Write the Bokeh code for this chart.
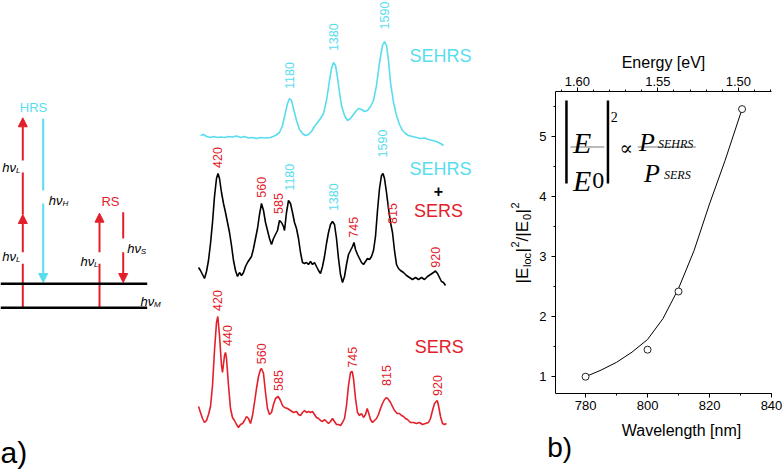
import numpy as np
from bokeh.plotting import figure
from bokeh.models import (Range1d, LinearAxis, SingleIntervalTicker, PrintfTickFormatter,
                          Arrow, NormalHead, Label)
from bokeh.layouts import row, column
from bokeh.embed import file_html
from bokeh.resources import INLINE
from bokeh.core.properties import value

# ------------------------------------------------------------------ data
# spectra (channel along the detector, intensity in a.u.)
sehrs_channel = [2, 5, 8, 12, 15, 19, 22, 26, 30, 34, 38, 42, 46, 50, 54, 58, 62, 67, 72, 77,
                 81, 84, 87, 89, 91, 93, 95, 98, 101, 104, 107, 110, 113, 116, 119, 122, 125, 128, 131, 133,
                 135, 137, 139, 141, 143, 146, 149, 152, 155, 158, 160, 163, 166, 169, 172, 175, 178, 181, 184, 186,
                 188, 190, 192, 195, 198, 201, 204, 207, 210, 214, 218, 222, 226, 230, 234, 238, 242, 245]
sehrs_intensity = [11, 12, 10, 9, 10, 9, 9.5, 9, 10, 9.5, 10.5, 9, 10, 8.5, 9, 8, 9, 8.5, 9, 11,
                   14, 21, 34, 43, 48, 46, 38, 26, 17, 13, 11, 12, 15, 20, 24, 28, 33, 46, 66, 78,
                   84, 81, 69, 54, 41, 31, 26, 28, 32, 36, 38, 37, 35, 36, 40, 46, 61, 84, 101, 105,
                   101, 86, 64, 44, 31, 22, 16, 13, 11, 10, 9, 8, 8.5, 7, 6, 5, 3, 1]

mix_channel = [0, 2, 4, 6, 8, 10, 12, 14, 16, 18, 19.5, 21, 23, 25, 27, 29, 31, 33, 35, 37,
               39, 41, 43, 45, 47, 49, 51, 53, 55, 57, 59, 61, 63, 65, 67, 69, 71, 73, 75, 77,
               79, 81, 83, 85, 86, 88, 90, 92, 94, 96, 98, 100, 102, 104, 106, 108, 110, 112, 114, 116,
               118, 120, 122, 124, 126, 128, 130, 132, 134, 136, 138, 140, 142, 144, 146, 148, 150, 152, 154, 155.5,
               157, 159, 161, 163, 165, 167, 169, 171, 173, 175, 177, 179, 181, 183, 184.5, 186, 188, 190, 192, 194,
               196, 198, 200, 202, 205, 208, 211, 214, 217, 220, 223, 226, 229, 232, 235, 237, 239, 241, 243, 245, 247]
mix_intensity = [19, 16, 12, 8, 15, 26, 43, 64, 90, 108, 113, 108, 94, 83, 74, 64, 54, 41, 26, 16,
                 10, 14, 11, 14, 20, 24, 27, 30, 38, 48, 58, 72, 83, 76, 64, 56, 48, 42, 48, 52,
                 56, 66, 64, 60, 56, 74, 86, 83, 74, 64, 58, 48, 34, 24, 23, 24, 22, 25, 22, 24,
                 20, 16, 13, 20, 30, 43, 54, 62, 65, 62, 48, 28, 12, 4, 10, 22, 32, 36, 40, 44,
                 37, 32, 28, 24, 22, 25, 28, 27, 30, 36, 50, 76, 98, 111, 113, 108, 94, 78, 64, 54,
                 36, 22, 18, 16, 14, 11, 9, 7, 9, 7, 9, 7, 10, 12, 14, 15.5, 13, 9, 5, 4, 1]

sers_channel = [0, 2, 4, 6, 8, 10, 12, 14, 16, 18, 19.3, 21, 23, 24, 26, 27, 28, 30, 32, 34,
                36, 38, 40, 42, 44, 46, 48, 50, 52, 54, 56, 58, 60, 62, 63, 65, 67, 69, 71, 73,
                75, 77, 79.7, 82, 84, 86, 89, 92, 95, 98, 100, 102, 104, 106, 108, 110, 112, 114, 116, 118,
                120, 122, 124, 126, 128, 130, 132, 134, 136, 138, 140, 142, 144, 146, 148, 150, 152, 153.7, 155, 157,
                159, 161, 163, 165, 167, 168.7, 170, 172, 174, 176, 178, 180, 182, 184, 186, 188, 190, 192, 194, 196,
                198.7, 201, 203, 205, 207, 209, 212, 215, 218, 221, 224, 227, 230, 232, 234, 236, 238.7, 240, 242, 244,
                246, 248]
sers_intensity = [22, 16, 10, 6, 8, 14, 22, 43, 78, 106, 112, 93, 63, 56, 73, 76, 70, 43, 20, 11,
                  8, 4, 1, 4, 5, 8, 12, 10, 5, 13, 26, 40, 52, 59, 60, 55, 36, 20, 14, 16,
                  24, 30, 32, 28, 23, 21, 20, 18, 16, 17, 14, 13, 16, 18, 16, 17, 16, 17, 14, 11,
                  10, 8, 7, 9, 7, 5, 7, 10, 7, 4, 4, 3, 6, 10, 23, 43, 56, 57, 50, 30,
                  16, 13, 15, 11, 14, 20, 16, 9, 6, 8, 10, 14, 20, 25, 29, 31, 29, 26, 22, 18,
                  15, 15, 13, 12, 10, 9, 6, 6, 5, 6, 4, 5, 6, 10, 18, 25, 28, 23, 12, 5,
                  4, 5]

# band assignments (cm^-1) and the channel where each band sits
sehrs_bands = ["1180", "1380", "1590"]
sehrs_band_channel = [91, 134.7, 186]
mix_bands = ["420", "560", "585", "1180", "1380", "745", "1590", "815", "920"]
mix_band_channel = [19, 63, 80, 91, 134.7, 154.7, 183.7, 193.7, 237]
sers_bands = ["420", "440", "560", "585", "745", "815", "920"]
sers_band_channel = [18.7, 28.7, 63, 80.3, 153.7, 188, 238.7]

# panel b
wavelength_nm = [780, 800, 810, 830.5]
enhancement = [1.00, 1.45, 2.42, 5.46]
fit_wavelength_nm = [780, 785, 790, 795, 800, 805, 810, 815, 820, 825, 830.5]
fit_enhancement = [1.00, 1.11, 1.24, 1.41, 1.62, 1.97, 2.47, 3.10, 3.88, 4.60, 5.46]

# ------------------------------------------------------------------ layout / style
CYAN = "#58DDEE"
RED = "#E3202A"
SANS = "Liberation Sans"
SERIF = "Liberation Serif"
BASE = {"sehrs": 146, "mix": 286, "sers": 428}
sehrs_label_height = [71, 109.3, 131]
mix_label_height = [129, 99.3, 83, 109.3, 89.3, 59.3, 143, 73, 29.3]
sers_label_height = [128, 93, 74.7, 48, 71.3, 53, 43]

W, H = 783, 469
W1 = 536            # left canvas (panel a + y title of panel b)
W2 = W - W1
HB = 420            # height of the plot canvas of panel b
FRAME_L, FRAME_R, FRAME_T, FRAME_B = 554, 771, 91, 393

# ------------------------------------------------------------------ panel a
pa = figure(width=W1, height=H, x_range=Range1d(0, W1), y_range=Range1d(H, 0),
            x_axis_type=None, y_axis_type=None, toolbar_location=None,
            output_backend="svg", title=None, min_border=0, outline_line_color=None)
pa.extra_x_ranges = {"ch": Range1d(-198, W1 - 198)}
pa.extra_y_ranges = {k: Range1d(b - H, b) for k, b in BASE.items()}
pa.extra_y_ranges["up"] = Range1d(0, H)

# energy levels
pa.segment(x0=[0, 0], y0=[283.3, 307.3], x1=[146.7, 146.7], y1=[283.3, 307.3],
           line_color="black", line_width=2.5)

def arrow(x, y0, y1, color):
    a = Arrow(end=NormalHead(size=9, fill_color=color, line_color=color),
              x_start=x, y_start=y0, x_end=x, y_end=y1,
              line_color=color, line_width=2, level="underlay")
    pa.add_layout(a)

arrow(22.3, 307.3, 214, RED)
arrow(22.3, 214, 117.3, RED)
arrow(42.7, 118.3, 282, CYAN)
arrow(99, 307.3, 212.7, RED)
arrow(122.7, 211.7, 282, RED)

# gaps in the arrows behind the labels
pa.quad(left=[19.5, 19.5, 40, 96.3, 120], right=[25.5, 25.5, 45.5, 101.7, 125.5],
        top=[160, 251.7, 190, 251.7, 238], bottom=[172, 263.3, 203, 263.3, 251.7],
        fill_color="white", line_color=None)

pa.text(x=[1.7, 1.7, 48.3, 80, 126.7, 140], y=[167, 256, 200, 261, 248, 301],
        text=["hν"] * 6, text_font=value(SANS), text_font_style="italic",
        text_font_size="13px", text_color="black", text_baseline="alphabetic")
pa.text(x=[15.5, 15.5, 62, 93.5, 140.3, 153.5], y=[170, 259, 203, 264, 251, 304],
        text=["L", "L", "H", "L", "S", "M"], text_font=value(SANS), text_font_style="italic",
        text_font_size="8px", text_color="black", text_baseline="alphabetic")
pa.text(x=[33, 110], y=[106.7, 200.7], text=["HRS", "RS"], text_color=[CYAN, RED],
        text_font=value(SANS), text_font_size="13px", text_align="center",
        text_baseline="middle")

# spectra
pa.line(sehrs_channel, sehrs_intensity, x_range_name="ch", y_range_name="sehrs",
        line_color=CYAN, line_width=1.6)
pa.line(mix_channel, mix_intensity, x_range_name="ch", y_range_name="mix",
        line_color="black", line_width=1.6)
pa.line(sers_channel, sers_intensity, x_range_name="ch", y_range_name="sers",
        line_color=RED, line_width=1.6)

def band_labels(ch, h, labels, colors, rng):
    pa.text(x=ch, y=h, text=labels, text_color=colors, angle=np.pi / 2,
            text_align="center", text_baseline="middle", text_font=value(SANS),
            text_font_size="12.5px", x_range_name="ch", y_range_name=rng)

band_labels(sehrs_band_channel, sehrs_label_height, sehrs_bands, [CYAN] * 3, "sehrs")
band_labels(mix_band_channel, mix_label_height, mix_bands,
            [CYAN if b in sehrs_bands else RED for b in mix_bands], "mix")
band_labels(sers_band_channel, sers_label_height, sers_bands, [RED] * len(sers_bands), "sers")

pa.text(x=[440, 440, 438, 438.7], y=[55, 168, 210, 346.7],
        text=["SEHRS", "SEHRS", "SERS", "SERS"], text_color=[CYAN, CYAN, RED, RED],
        text_font=value(SANS), text_font_size="18px", text_align="center",
        text_baseline="middle")
pa.text(x=[438], y=[190], text=["+"], text_color="black", text_font=value(SANS),
        text_font_size="16px", text_font_style="bold", text_align="center",
        text_baseline="middle")
pa.text(x=[0], y=[452], text=["a)"], text_color="black", text_font=value(SANS),
        text_font_size="30px", text_baseline="alphabetic")

# y title of panel b: |E_loc|^2/|E_0|^2 (reads bottom to top)
R = np.pi / 2
ytitle_parts = ["|E", "loc", "|", "2", "/|E", "0", "|", "2"]
ytitle_x = [522, 526, 522, 514, 522, 526, 522, 514]
ytitle_y = [283, 266.5, 252, 247, 241, 219.5, 213, 208]
ytitle_size = ["17px", "11px", "17px", "11px", "17px", "11px", "17px", "11px"]
pa.text(x=ytitle_x, y=[H - v for v in ytitle_y], text=ytitle_parts, angle=R,
        text_font=value(SANS), text_font_size=ytitle_size, text_color="black",
        text_align="left", text_baseline="alphabetic", y_range_name="up")

# ------------------------------------------------------------------ panel b
X0, X1 = 770.3, 840.0
Y0, Y1 = 0.72, 0.72 + (FRAME_B - FRAME_T) / 60
pb = figure(width=W2, height=HB, x_range=Range1d(X0, X1), y_range=Range1d(Y0, Y1),
            toolbar_location=None, output_backend="svg", title=None,
            min_border_left=FRAME_L - W1, min_border_right=W - FRAME_R,
            min_border_top=FRAME_T, min_border_bottom=HB - FRAME_B,
            outline_line_color=None)
pb.grid.visible = False
pb.extra_x_ranges = {"energy": Range1d(1.6136, 1.4794)}

bottom = pb.below[0]
left = pb.left[0]
top = LinearAxis(x_range_name="energy", axis_label="Energy [eV]",
                 ticker=SingleIntervalTicker(interval=0.05, num_minor_ticks=5),
                 formatter=PrintfTickFormatter(format="%.2f"))
pb.add_layout(top, "above")
bottom.ticker = SingleIntervalTicker(interval=20, num_minor_ticks=2)
left.ticker = SingleIntervalTicker(interval=1, num_minor_ticks=2)

for ax in (bottom, left, top):
    ax.axis_line_color = "black"
    ax.axis_line_width = 1
    ax.major_tick_line_color = "black"
    ax.minor_tick_line_color = "black"
    ax.major_tick_in = 0
    ax.major_tick_out = 4
    ax.minor_tick_in = 0
    ax.minor_tick_out = 2
    ax.major_label_text_font = SANS
    ax.major_label_text_font_size = "13px"
    ax.major_label_text_color = "black"
    ax.axis_label_text_font = SANS
    ax.axis_label_text_font_style = "normal"
    ax.axis_label_text_font_size = "16px"
    ax.axis_label_text_color = "black"
top.major_label_standoff = 2
top.axis_label_standoff = 3
bottom.major_label_standoff = 3
left.major_label_standoff = 5

pb.line(fit_wavelength_nm, fit_enhancement, line_color="black", line_width=1)
pb.scatter(wavelength_nm, enhancement, marker="circle", size=7, fill_color="white",
           line_color="#222222", line_width=1)


def dx(rx):
    return X0 + (rx - FRAME_L) * (X1 - X0) / (FRAME_R - FRAME_L)


def dy(ry):
    return Y0 + (FRAME_B - ry) * (Y1 - Y0) / (FRAME_B - FRAME_T)


def lab(rx, ry, text, size, font=SANS, style="normal", align="left",
        baseline="alphabetic"):
    pb.add_layout(Label(x=dx(rx), y=dy(ry), text=text, text_font=font,
                        text_font_size=size, text_font_style=style,
                        text_align=align, text_baseline=baseline, text_color="black"))

# formula |E/E0|^2 ∝ P_SEHRS / P_SERS
pb.segment(x0=[dx(565), dx(606.7)], y0=[dy(100), dy(100)],
           x1=[dx(565), dx(606.7)], y1=[dy(183), dy(183)], line_color="black", line_width=2.5)
pb.segment(x0=[dx(569), dx(636.7)], y0=[dy(146.5), dy(146.5)],
           x1=[dx(603), dx(695)], y1=[dy(146.5), dy(146.5)], line_color="#777777", line_width=1)
lab(571.5, 142, "E", "30px", font=SERIF, style="italic")
lab(571.5, 180, "E", "30px", font=SERIF, style="italic")
lab(591, 180, "0", "24px", font=SERIF)
lab(609.5, 116, "2", "14px", font=SERIF)
lab(625, 147, "∝", "20px", font="DejaVu Serif", align="center", baseline="middle")
lab(638, 142, "P", "26px", font=SERIF, style="italic")
lab(657, 143, "SEHRS", "12px", font=SERIF, style="italic")
lab(643, 173, "P", "26px", font=SERIF, style="italic")
lab(663, 174, "SERS", "12px", font=SERIF, style="italic")

# ------------------------------------------------------------------ strip under panel b
pc = figure(width=W2, height=H - HB, x_range=Range1d(W1, W), y_range=Range1d(H, HB),
            x_axis_type=None, y_axis_type=None, toolbar_location=None,
            output_backend="svg", title=None, min_border=0, outline_line_color=None)
pc.text(x=[681], y=[430], text=["Wavelength [nm]"], text_font=value(SANS),
        text_font_size="16px", text_color="black", text_align="center",
        text_baseline="middle")
pc.text(x=[546.7], y=[447], text=["b)"], text_font=value(SANS),
        text_font_size="28px", text_color="black", text_baseline="middle")

for f in (pa, pb, pc):
    if "frame_align" in f.properties():
        f.frame_align = False

layout = row(pa, column(pb, pc))
open("out.html", "w").write(file_html(layout, INLINE))
